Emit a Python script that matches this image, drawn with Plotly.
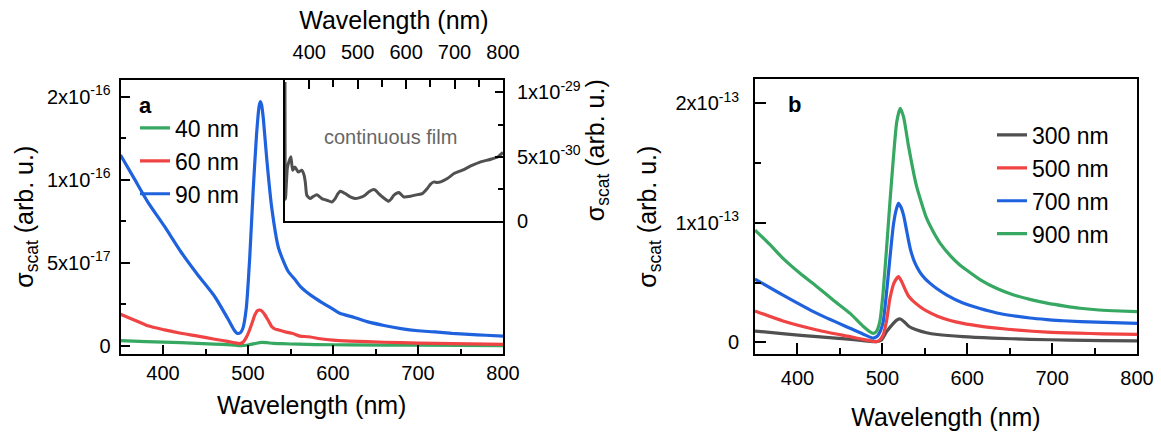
import numpy as np
import plotly.graph_objects as go

# ---------------- Panel a (units of 1e-16) ----------------
UNIT_A = 1e-16
wl_a90 = [350, 366, 382, 402, 421, 441, 461, 476, 483, 487, 491, 494, 498, 502, 506, 510, 513, 514.5, 516, 518,
          522, 528, 536, 547, 555, 562, 575, 587, 600, 608, 625, 640, 660, 680, 700, 720, 740, 760, 780, 800]
s_a90 = [1.149, 1.008, 0.867, 0.717, 0.566, 0.426, 0.295, 0.165, 0.100, 0.075, 0.078, 0.105, 0.227, 0.528, 0.928,
         1.269, 1.440, 1.470, 1.450, 1.370, 1.129, 0.828, 0.587, 0.450, 0.400, 0.355, 0.300, 0.260, 0.220, 0.195,
         0.170, 0.145, 0.122, 0.103, 0.090, 0.083, 0.074, 0.068, 0.063, 0.058]

wl_a60 = [350, 366, 382, 402, 421, 441, 461, 476, 484, 490, 494, 498, 501, 505, 508, 511, 514, 517, 520, 524,
          528, 532, 536, 545, 552, 561, 571, 585, 600, 620, 640, 680, 720, 760, 800]
s_a60 = [0.189, 0.155, 0.120, 0.095, 0.075, 0.058, 0.039, 0.026, 0.018, 0.013, 0.020, 0.050, 0.084, 0.140, 0.185,
         0.210, 0.215, 0.205, 0.185, 0.150, 0.114, 0.100, 0.095, 0.082, 0.075, 0.058, 0.054, 0.042, 0.034, 0.028,
         0.024, 0.018, 0.014, 0.011, 0.008]

wl_a40 = [350, 380, 421, 460, 480, 492, 500, 510, 516, 522, 530, 540, 560, 579, 620, 700, 800]
s_a40 = [0.030, 0.025, 0.018, 0.010, 0.005, 0.000, 0.004, 0.015, 0.020, 0.018, 0.014, 0.012, 0.009, 0.007, 0.005,
         0.003, 0.001]

# ---------------- Inset: continuous film (units of 1e-29) ----------------
UNIT_F = 1e-29
wl_film = [350, 351, 354.8, 358, 362.2, 365.7, 370.5, 377.6, 384.5, 389.4, 392, 395, 401.8, 408, 415.7, 421, 426,
           436.4, 446.8, 453.6, 459, 464, 469, 474.3, 484.7, 495, 508.8, 515, 522.7, 533, 538, 543.4, 553.8, 564,
           569, 574.6, 580, 585, 590, 595.3, 609, 623, 633.4, 643.7, 650, 657.5, 664, 671.3, 685, 699, 716.3, 733.5,
           754, 775, 790, 800]
s_film = [1.08, 0.17, 0.41, 0.46, 0.50, 0.395, 0.42, 0.38, 0.395, 0.356, 0.30, 0.20, 0.174, 0.19, 0.205, 0.19,
          0.174, 0.161, 0.148, 0.174, 0.21, 0.231, 0.225, 0.213, 0.187, 0.174, 0.187, 0.20, 0.226, 0.244, 0.235,
          0.213, 0.179, 0.153, 0.17, 0.20, 0.215, 0.221, 0.205, 0.187, 0.192, 0.205, 0.213, 0.252, 0.285, 0.304,
          0.300, 0.304, 0.33, 0.369, 0.395, 0.428, 0.46, 0.48, 0.50, 0.533]

# ---------------- Panel b (units of 1e-13) ----------------
UNIT_B = 1e-13
wl_b900 = [350, 368, 383, 403, 423, 442, 462, 478, 485, 489.4, 493, 497, 501, 505, 509, 513, 517, 521, 525, 531,
           540, 552, 560, 568, 580, 590, 600, 615, 635, 654, 675, 694, 715, 733, 752, 772, 800]
s_b900 = [0.939, 0.814, 0.702, 0.577, 0.465, 0.354, 0.242, 0.130, 0.090, 0.075, 0.090, 0.172, 0.423, 0.786, 1.176,
          1.540, 1.844, 1.957, 1.886, 1.635, 1.315, 1.040, 0.925, 0.830, 0.725, 0.655, 0.600, 0.525, 0.450, 0.398,
          0.357, 0.328, 0.303, 0.285, 0.272, 0.264, 0.256]

wl_b700 = [350, 383, 423, 462, 480, 489, 494, 498, 501, 504, 507, 510, 513, 516, 519, 522, 525, 529, 533, 538,
           544, 550, 556, 564, 576, 595, 615, 635, 654, 674, 694, 713, 752, 800]
s_b700 = [0.529, 0.395, 0.242, 0.117, 0.060, 0.035, 0.050, 0.100, 0.172, 0.350, 0.563, 0.780, 0.980, 1.100, 1.162,
          1.130, 1.064, 0.920, 0.780, 0.670, 0.590, 0.535, 0.495, 0.450, 0.395, 0.328, 0.282, 0.245, 0.222, 0.203,
          0.190, 0.180, 0.168, 0.159]

wl_b500 = [350, 383, 423, 462, 480, 490, 493, 497, 501, 505, 509, 514, 519, 523, 527, 531, 537, 544, 552, 565,
           580, 595, 615, 635, 660, 694, 730, 760, 800]
s_b500 = [0.262, 0.178, 0.103, 0.047, 0.020, 0.007, 0.005, 0.020, 0.061, 0.180, 0.368, 0.500, 0.549, 0.505, 0.440,
          0.385, 0.340, 0.300, 0.262, 0.218, 0.182, 0.158, 0.135, 0.118, 0.101, 0.085, 0.076, 0.071, 0.067]

wl_b300 = [350, 385, 423, 460, 480, 493, 499, 505, 512, 517, 521, 526, 532, 540, 552, 565, 595, 630, 674, 720, 760, 800]
s_b300 = [0.094, 0.070, 0.047, 0.027, 0.012, 0.005, 0.020, 0.089, 0.150, 0.185, 0.195, 0.170, 0.130, 0.105, 0.080,
          0.065, 0.047, 0.035, 0.025, 0.018, 0.014, 0.011]

labels_a = ["40 nm", "60 nm", "90 nm"]
labels_b = ["300 nm", "500 nm", "700 nm", "900 nm"]

GREEN = "#36a862"
RED = "#f04343"
BLUE = "#1f62de"
GRAY = "#505050"

FONT = "Arial, Liberation Sans, sans-serif"
W, H = 1161, 433


def px_x(p):
    return p / W


def px_y(p):
    return (H - p) / H


fig = go.Figure()

LW = 3.2
for wl, s, name, col in [(wl_a40, s_a40, labels_a[0], GREEN),
                         (wl_a60, s_a60, labels_a[1], RED),
                         (wl_a90, s_a90, labels_a[2], BLUE)]:
    fig.add_trace(go.Scatter(x=wl, y=np.array(s) * UNIT_A, mode="lines", name=name,
                             line=dict(color=col, width=LW, shape="spline", smoothing=0.6),
                             xaxis="x", yaxis="y", legend="legend", legendgroup=name))

fig.add_trace(go.Scatter(x=wl_film, y=np.array(s_film) * UNIT_F, mode="lines", name="continuous film",
                         line=dict(color=GRAY, width=3, shape="spline", smoothing=0.5),
                         xaxis="x2", yaxis="y2", showlegend=False))

for wl, s, name, col in [(wl_b300, s_b300, labels_b[0], GRAY),
                         (wl_b500, s_b500, labels_b[1], RED),
                         (wl_b700, s_b700, labels_b[2], BLUE),
                         (wl_b900, s_b900, labels_b[3], GREEN)]:
    fig.add_trace(go.Scatter(x=wl, y=np.array(s) * UNIT_B, mode="lines", name=name,
                             line=dict(color=col, width=LW, shape="spline", smoothing=0.6),
                             xaxis="x3", yaxis="y3", legend="legend2", legendgroup=name))

tickfont = dict(family=FONT, size=20, color="black")
titlefont = dict(family=FONT, size=25, color="black")
common = dict(showline=True, linecolor="black", linewidth=2, showgrid=False, zeroline=False, automargin=False,
              ticks="inside", tickcolor="black", tickwidth=2, tickfont=tickfont)

ytitle = "\u03c3<sub>scat</sub> (arb. u.)"
xtitle = "Wavelength (nm)"
x_major = [400, 500, 600, 700, 800]
x_minor = [450, 550, 650, 750]

dom_y_main = [px_y(354), px_y(79.5)]

fig.update_layout(
    template="none",
    width=W, height=H, autosize=False,
    margin=dict(l=0, r=0, t=0, b=0, pad=0),
    paper_bgcolor="white", plot_bgcolor="white",
    font=dict(family=FONT, color="black"),
    xaxis=dict(domain=[px_x(120.5), px_x(503)], anchor="y", range=[350, 800], mirror=True,
               tickmode="array", tickvals=x_major, ticklen=9,
               minor=dict(tickmode="array", tickvals=x_minor, ticklen=5, ticks="inside", tickcolor="black", tickwidth=2),
               ticklabelstandoff=0,
               title=dict(text=xtitle, font=titlefont, standoff=13), **common),
    yaxis=dict(domain=dom_y_main, anchor="x", range=[-0.05 * UNIT_A, 1.6036 * UNIT_A], mirror=True,
               tickmode="array", tickvals=[0, 0.5 * UNIT_A, 1.0 * UNIT_A, 1.5 * UNIT_A],
               ticktext=["0", "5x10<sup>-17</sup>", "1x10<sup>-16</sup>", "2x10<sup>-16</sup>"], ticklen=9,
               minor=dict(tickmode="array", tickvals=[0.25 * UNIT_A, 0.75 * UNIT_A, 1.25 * UNIT_A], ticklen=5,
                          ticks="inside", tickcolor="black", tickwidth=2),
               ticklabelstandoff=4,
               title=dict(text=ytitle, font=titlefont, standoff=6), **common),
    xaxis2=dict(domain=[px_x(285), px_x(503)], anchor="y2", side="top", range=[350, 800], mirror=True,
                tickmode="array", tickvals=x_major, ticklen=9,
                minor=dict(tickmode="array", tickvals=x_minor, ticklen=7, ticks="inside", tickcolor="black", tickwidth=2),
                ticklabelstandoff=11,
                title=dict(text=xtitle, font=titlefont, standoff=4), **common),
    yaxis2=dict(domain=[px_y(221), px_y(79.5)], anchor="x2", side="right", range=[0, 1.1 * UNIT_F], mirror=True,
                tickmode="array", tickvals=[0, 0.5 * UNIT_F, 1.0 * UNIT_F],
                ticktext=["0", "5x10<sup>-30</sup>", "1x10<sup>-29</sup>"], ticklen=8,
                minor=dict(tickmode="array", tickvals=[0.25 * UNIT_F, 0.75 * UNIT_F], ticklen=5,
                           ticks="inside", tickcolor="black", tickwidth=2),
                ticklabelstandoff=8,
                title=dict(text=ytitle, font=titlefont, standoff=2), **common),
    xaxis3=dict(domain=[px_x(755), px_x(1137)], anchor="y3", range=[350, 800], mirror=True,
                tickmode="array", tickvals=x_major, ticklen=11,
                minor=dict(tickmode="array", tickvals=x_minor, ticklen=6, ticks="inside", tickcolor="black", tickwidth=2),
                ticklabelstandoff=5,
                title=dict(text=xtitle, font=titlefont, standoff=20), **common),
    yaxis3=dict(domain=[px_y(354), px_y(79.3)], anchor="x3", range=[-0.098 * UNIT_B, 2.2 * UNIT_B], mirror=True,
                tickmode="array", tickvals=[0, 1.0 * UNIT_B, 2.0 * UNIT_B],
                ticktext=["0", "1x10<sup>-13</sup>", "2x10<sup>-13</sup>"], ticklen=11,
                minor=dict(tickmode="array", tickvals=[0.5 * UNIT_B, 1.5 * UNIT_B], ticklen=6,
                           ticks="inside", tickcolor="black", tickwidth=2),
                ticklabelstandoff=10,
                title=dict(text=ytitle, font=titlefont, standoff=12), **common),
    legend=dict(x=px_x(135), y=px_y(106.5), xanchor="left", yanchor="top", bgcolor="rgba(0,0,0,0)",
                font=dict(family=FONT, size=23, color="black"), tracegroupgap=0, itemwidth=30),
    legend2=dict(x=px_x(992), y=px_y(113.5), xanchor="left", yanchor="top", bgcolor="rgba(0,0,0,0)",
                 font=dict(family=FONT, size=23, color="black"), tracegroupgap=0, itemwidth=30),
    annotations=[
        dict(text="<b>a</b>", x=px_x(145), y=px_y(105), xref="paper", yref="paper", showarrow=False,
             xanchor="center", yanchor="middle", font=dict(family=FONT, size=22, color="black")),
        dict(text="<b>b</b>", x=px_x(794), y=px_y(104), xref="paper", yref="paper", showarrow=False,
             xanchor="center", yanchor="middle", font=dict(family=FONT, size=22, color="black")),
        dict(text="continuous film", x=px_x(390), y=px_y(137), xref="paper", yref="paper", showarrow=False,
             xanchor="center", yanchor="middle", font=dict(family=FONT, size=20, color="#666666")),
    ],
)

fig.write_html("out.html")
